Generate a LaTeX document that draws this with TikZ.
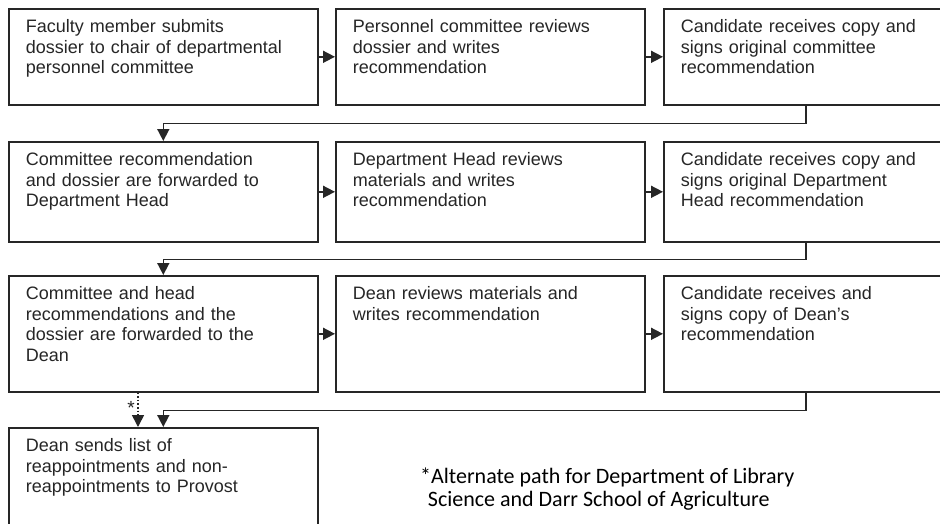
\documentclass[tikz,border=0pt]{standalone}
\usepackage{fontspec}
\setmainfont{Liberation Sans}
\newfontfamily\notefont{Carlito}
\usetikzlibrary{arrows.meta}

\tikzstyle{stage} = [draw=black!85, line width=1.6pt, anchor=north west, inner xsep=17pt, inner ysep=10pt, text width=275pt, align=left, text height=14pt, text=black!85, font=\fontsize{18}{20.5}\selectfont]
\tikzstyle{last} = [text width=250pt]
\tikzstyle{link} = [draw=black!85, line width=1.6pt, -{Triangle[length=12pt,width=12pt]}]
\tikzstyle{altlink} = [link, dotted]

\begin{document}
\begin{tikzpicture}[x=1pt, y=-1pt]
\clip (0,0) rectangle (940,523);
\fill[white] (0,0) rectangle (940,523);

\node[stage, text depth=62pt] (b11) at (8,8) {Faculty member submits\\dossier to chair of departmental\\personnel committee};
\node[stage, text depth=62pt] (b12) at (335,8) {Personnel committee reviews\\dossier and writes\\recommendation};
\node[stage, last, text depth=62pt] (b13) at (663,8) {Candidate receives copy and\\signs original committee\\recommendation};

\node[stage, text depth=66pt] (b21) at (8,141) {Committee recommendation\\and dossier are forwarded to\\Department Head};
\node[stage, text depth=66pt] (b22) at (335,141) {Department Head reviews\\materials and writes\\recommendation};
\node[stage, last, text depth=66pt] (b23) at (663,141) {Candidate receives copy and\\signs original Department\\Head recommendation};

\node[stage, text depth=82pt] (b31) at (8,275) {Committee and head\\recommendations and the\\dossier are forwarded to the\\Dean};
\node[stage, text depth=82pt] (b32) at (335,275) {Dean reviews materials and\\writes recommendation};
\node[stage, last, text depth=82pt] (b33) at (663,275) {Candidate receives and\\signs copy of Dean’s\\recommendation};

\node[stage, text depth=66pt] (b41) at (8,427) {Dean sends list of\\reappointments and non-\\reappointments to Provost};

\draw[link] (b11) -- (b12);
\draw[link] (b12) -- (b13);
\draw[link] (b13.south) -- ++(0,18) -| (b21.north);
\draw[link] (b21) -- (b22);
\draw[link] (b22) -- (b23);
\draw[link] (b23.south) -- ++(0,17) -| (b31.north);
\draw[link] (b31) -- (b32);
\draw[link] (b32) -- (b33);
\draw[link] (b33.south) -- ++(0,18) -| (b41.north);

\coordinate (alttop) at ([xshift=130pt]b31.south west);
\coordinate (altend) at ([xshift=130pt]b41.north west);
\draw[altlink] (alttop) -- (altend);
\node[text=black!85, font=\fontsize{19}{19}\selectfont] (star) at (131,408) {*};

\node[anchor=north west, align=left, inner sep=0pt, font=\notefont\fontsize{22}{23}\selectfont] (note) at (420,468) {*Alternate path for Department of Library\\\hspace{0.35em}Science and Darr School of Agriculture};
\end{tikzpicture}
\end{document}
